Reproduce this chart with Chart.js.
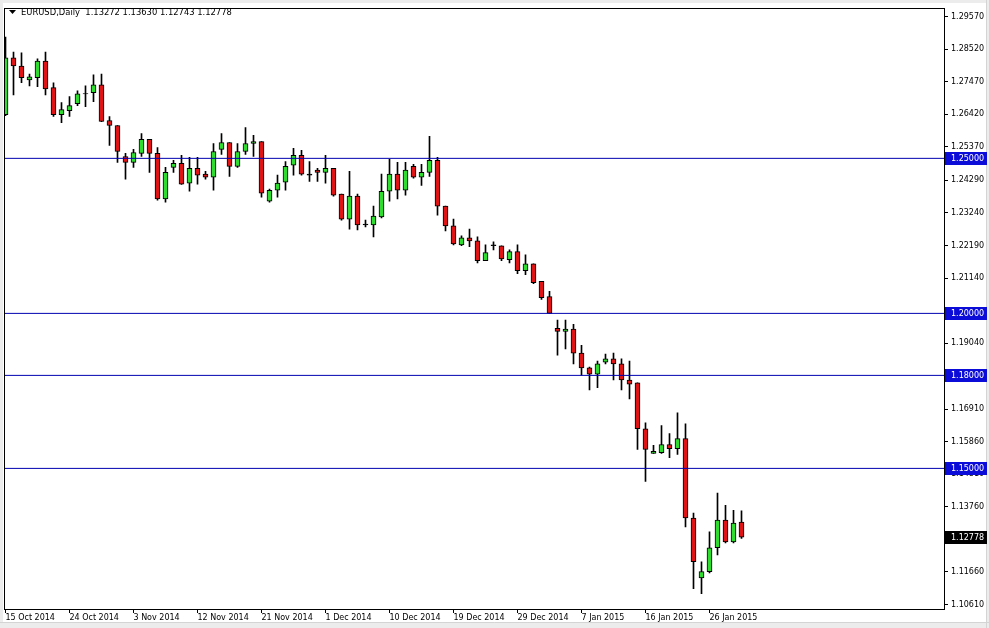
<!DOCTYPE html>
<html>
<head>
<meta charset="utf-8">
<script src="https://cdn.jsdelivr.net/npm/chart.js@4.4.1/dist/chart.umd.min.js"></script>
<style>
  html, body { margin: 0; padding: 0; background: #ffffff; }
  #wrap { width: 989px; height: 628px; position: relative; }
</style>
</head>
<body>
<div id="wrap"><canvas id="c" width="989" height="628"></canvas></div>
<script>
// ---- Data (EURUSD Daily) ----
const tickLabels = ['15 Oct 2014','24 Oct 2014','3 Nov 2014','12 Nov 2014','21 Nov 2014','1 Dec 2014',
  '10 Dec 2014','19 Dec 2014','29 Dec 2014','7 Jan 2015','16 Jan 2015','26 Jan 2015'];

const opens = [
1.2641, 1.2824, 1.2798, 1.2753, 1.2760, 1.2814, 1.2728, 1.2641, 1.2654, 1.2676,
1.2708, 1.2712, 1.2737, 1.2622, 1.2606, 1.2506, 1.2487, 1.2516, 1.2561, 1.2516,
1.2369, 1.2471, 1.2484, 1.2420, 1.2468, 1.2449, 1.2439, 1.2529, 1.2551, 1.2474,
1.2522, 1.2548, 1.2554, 1.2362, 1.2397, 1.2423, 1.2478, 1.2510, 1.2449, 1.2462,
1.2455, 1.2468, 1.2385, 1.2304, 1.2378, 1.2285, 1.2285, 1.2311, 1.2394, 1.2449,
1.2397, 1.2474, 1.2439, 1.2455, 1.2494, 1.2346, 1.2282, 1.2221, 1.2244, 1.2234,
1.2170, 1.2218, 1.2218, 1.2173, 1.2199, 1.2138, 1.2160, 1.2103, 1.2054, 1.1952,
1.1942, 1.1949, 1.1872, 1.1824, 1.1804, 1.1843, 1.1853, 1.1837, 1.1785, 1.1776,
1.1628, 1.1548, 1.1551, 1.1577, 1.1564, 1.1596, 1.1340, 1.1147, 1.1167, 1.1244,
1.1333, 1.1263, 1.13272];

const highs = [
1.2891, 1.2843, 1.2840, 1.2772, 1.2821, 1.2843, 1.2744, 1.2680, 1.2699, 1.2718,
1.2734, 1.2769, 1.2772, 1.2635, 1.2606, 1.2516, 1.2529, 1.2580, 1.2561, 1.2535,
1.2471, 1.2494, 1.2510, 1.2503, 1.2503, 1.2458, 1.2548, 1.2580, 1.2551, 1.2548,
1.2599, 1.2574, 1.2554, 1.2401, 1.2446, 1.2490, 1.2532, 1.2526, 1.2490, 1.2468,
1.2510, 1.2468, 1.2385, 1.2458, 1.2385, 1.2301, 1.2346, 1.2449, 1.2497, 1.2487,
1.2487, 1.2481, 1.2481, 1.2571, 1.2503, 1.2346, 1.2304, 1.2250, 1.2272, 1.2247,
1.2221, 1.2231, 1.2218, 1.2205, 1.2221, 1.2189, 1.2160, 1.2103, 1.2071, 1.1978,
1.1978, 1.1965, 1.1897, 1.1827, 1.1846, 1.1869, 1.1872, 1.1853, 1.1846, 1.1776,
1.1647, 1.1574, 1.1638, 1.1612, 1.1679, 1.1644, 1.1356, 1.1199, 1.1295, 1.1420,
1.1381, 1.1365, 1.13630];

const lows = [
1.2638, 1.2705, 1.2744, 1.2734, 1.2731, 1.2705, 1.2635, 1.2615, 1.2635, 1.2670,
1.2667, 1.2683, 1.2618, 1.2542, 1.2487, 1.2433, 1.2471, 1.2506, 1.2455, 1.2365,
1.2359, 1.2455, 1.2416, 1.2394, 1.2417, 1.2433, 1.2397, 1.2513, 1.2442, 1.2471,
1.2513, 1.2506, 1.2375, 1.2359, 1.2375, 1.2397, 1.2446, 1.2446, 1.2426, 1.2426,
1.2420, 1.2378, 1.2301, 1.2272, 1.2269, 1.2279, 1.2247, 1.2308, 1.2362, 1.2369,
1.2381, 1.2436, 1.2413, 1.2442, 1.2317, 1.2266, 1.2221, 1.2218, 1.2215, 1.2163,
1.2170, 1.2205, 1.2170, 1.2163, 1.2128, 1.2125, 1.2096, 1.2045, 1.2000, 1.1865,
1.1885, 1.1837, 1.1801, 1.1753, 1.1760, 1.1837, 1.1785, 1.1753, 1.1724, 1.1561,
1.1458, 1.1548, 1.1548, 1.1535, 1.1545, 1.1311, 1.1112, 1.1096, 1.1163, 1.1221,
1.1260, 1.1260, 1.12743];

const closes = [
1.2824, 1.2798, 1.2760, 1.2763, 1.2814, 1.2724, 1.2641, 1.2657, 1.2670, 1.2708,
1.2709, 1.2737, 1.2619, 1.2606, 1.2522, 1.2487, 1.2519, 1.2561, 1.2516, 1.2369,
1.2455, 1.2484, 1.2417, 1.2468, 1.2446, 1.2439, 1.2522, 1.2551, 1.2474, 1.2522,
1.2548, 1.2554, 1.2388, 1.2397, 1.2420, 1.2474, 1.2510, 1.2449, 1.2446, 1.2455,
1.2468, 1.2381, 1.2304, 1.2378, 1.2285, 1.2288, 1.2314, 1.2394, 1.2449, 1.2397,
1.2462, 1.2439, 1.2455, 1.2494, 1.2346, 1.2282, 1.2224, 1.2244, 1.2234, 1.2170,
1.2196, 1.2221, 1.2176, 1.2199, 1.2138, 1.2160, 1.2099, 1.2051, 1.2000, 1.1942,
1.1949, 1.1872, 1.1824, 1.1804, 1.1837, 1.1853, 1.1837, 1.1785, 1.1772, 1.1628,
1.1561, 1.1555, 1.1577, 1.1564, 1.1596, 1.1340, 1.1199, 1.1167, 1.1244, 1.1333,
1.1263, 1.1324, 1.12778];

const yTicks = [1.29570, 1.28520, 1.27470, 1.26420, 1.25370, 1.24290, 1.23240, 1.22190,
  1.21140, 1.19040, 1.16910, 1.15860, 1.14810, 1.13760, 1.11660, 1.10610];

const levels = [1.25000, 1.20000, 1.18000, 1.15000];

const headerText = 'EURUSD,Daily  1.13272 1.13630 1.12743 1.12778';

// ---- Styles ----
const BULL = '#30dc30';
const BEAR = '#e01414';
const LEVEL_LINE = '#0000b0';
const LEVEL_BOX = '#0c0cd8';
const FONT = '"DejaVu Sans", sans-serif';
const BARS_PER_LABEL = 8;

const bodyColors = opens.map((o, i) => {
  const c = closes[i];
  if (Math.abs(c - o) < 0.0004) return '#000000';
  return c >= o ? BULL : BEAR;
});

const bodyData = opens.map((o, i) => ({ x: i, y: [o, closes[i]] }));
const wickData = lows.map((l, i) => ({ x: i, y: [l, highs[i]] }));

const levelSets = levels.map(v => ({
  type: 'line',
  data: [{ x: -5, y: v }, { x: 200, y: v }],
  borderColor: LEVEL_LINE,
  borderWidth: 1,
  pointRadius: 0,
  order: 0,
  tension: 0
}));

const framePlugin = {
  id: 'mt4frame',
  beforeDraw(chart) {
    const ctx = chart.ctx;
    ctx.save();
    ctx.fillStyle = '#ececec';
    ctx.fillRect(0, 0, chart.width, chart.height);
    ctx.fillStyle = '#ffffff';
    ctx.fillRect(3, 3, 983, 619);
    ctx.strokeStyle = '#d4d4d4';
    ctx.lineWidth = 1;
    ctx.beginPath();
    ctx.moveTo(986.5, 0); ctx.lineTo(986.5, 628);
    ctx.moveTo(0, 622.5); ctx.lineTo(989, 622.5);
    ctx.stroke();
    ctx.restore();
  },
  afterDraw(chart) {
    const ctx = chart.ctx;
    const a = chart.chartArea;
    const ys = chart.scales.y;
    ctx.save();
    // frame
    ctx.strokeStyle = '#000000';
    ctx.lineWidth = 1;
    ctx.strokeRect(Math.round(a.left) + 0.5, Math.round(a.top) + 0.5,
      Math.round(a.right - a.left), Math.round(a.bottom - a.top));
    // header
    ctx.fillStyle = '#000000';
    ctx.beginPath();
    ctx.moveTo(9, 10); ctx.lineTo(16, 10); ctx.lineTo(12.5, 14); ctx.closePath();
    ctx.fill();
    ctx.font = '8.4px ' + FONT;
    ctx.textBaseline = 'middle';
    ctx.textAlign = 'left';
    ctx.fillText(headerText, 21, 13);
    // level labels on price axis
    ctx.font = '8px ' + FONT;
    const boxes = levels.map(v => ({ v, bg: LEVEL_BOX }));
    boxes.push({ v: closes[closes.length - 1], bg: '#000000' });
    boxes.forEach(b => {
      const y = Math.round(ys.getPixelForValue(b.v));
      ctx.fillStyle = b.bg;
      ctx.fillRect(Math.round(a.right) + 1, y - 6, 42, 13);
      ctx.fillStyle = '#ffffff';
      ctx.fillText(b.v.toFixed(5), Math.round(a.right) + 7, y + 0.5);
    });
    ctx.restore();
  }
};

new Chart(document.getElementById('c'), {
  type: 'bar',
  data: {
    datasets: [
      ...levelSets,
      {
        type: 'bar',
        data: bodyData,
        backgroundColor: bodyColors,
        borderColor: '#000000',
        borderWidth: 1,
        borderSkipped: false,
        barThickness: 5,
        grouped: false,
        order: 1
      },
      {
        type: 'bar',
        data: wickData,
        backgroundColor: '#000000',
        borderWidth: 0,
        barThickness: 1,
        grouped: false,
        order: 2
      }
    ]
  },
  options: {
    responsive: false,
    animation: false,
    devicePixelRatio: 1,
    layout: { padding: { left: 4, top: 4, right: 0, bottom: 0 } },
    plugins: { legend: { display: false }, tooltip: { enabled: false } },
    events: [],
    scales: {
      x: {
        type: 'linear',
        position: 'bottom',
        offset: false,
        min: -0.1875,
        max: 117.3125,
        grid: { display: true, offset: false, drawOnChartArea: false, drawTicks: true, tickLength: 4, color: '#000000' },
        border: { display: false },
        afterBuildTicks(scale) {
          scale.ticks = tickLabels.map((_, i) => ({ value: i * BARS_PER_LABEL }));
        },
        afterFit(scale) { scale.height = 19; },
        ticks: {
          autoSkip: false,
          maxRotation: 0,
          minRotation: 0,
          align: 'start',
          padding: 0,
          color: '#000000',
          font: { family: FONT, size: 8 },
          callback: (v) => tickLabels[Math.round(v / BARS_PER_LABEL)] || ''
        }
      },
      y: {
        type: 'linear',
        position: 'right',
        min: 1.10465,
        max: 1.29856,
        grid: { display: true, drawOnChartArea: false, drawTicks: true, tickLength: 4, color: '#000000' },
        border: { display: false },
        afterBuildTicks(scale) {
          scale.ticks = yTicks.map(v => ({ value: v }));
        },
        afterFit(scale) { scale.width = 45; },
        ticks: {
          padding: 3,
          color: '#000000',
          font: { family: FONT, size: 8 },
          callback: (v) => Number(v).toFixed(5)
        }
      }
    }
  },
  plugins: [framePlugin]
});
</script>
</body>
</html>
